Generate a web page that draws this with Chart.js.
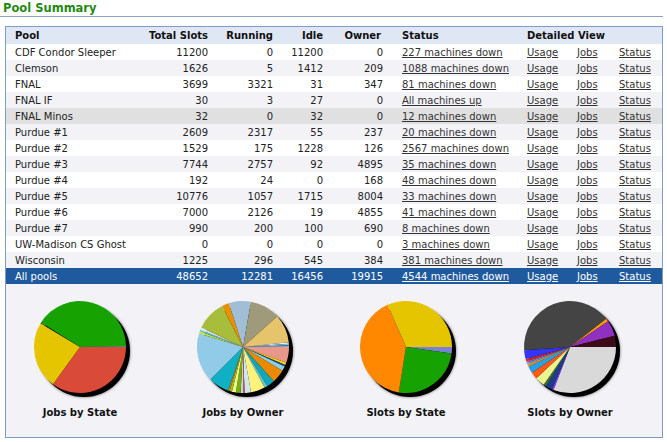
<!DOCTYPE html>
<html>
<head>
<meta charset="utf-8">
<script src="https://cdn.jsdelivr.net/npm/chart.js@4"></script>
<style>
  body { margin:0; background:#fff; font-family:"DejaVu Sans", Verdana, sans-serif; font-size:10px; color:#222; }
  #title { position:absolute; left:3px; top:1px; font-weight:bold; font-size:11.5px; color:#1f8a12; }
  #rule { position:absolute; left:0; top:16px; width:663px; height:1px; background:#8fa3c8; }
  #box { position:absolute; left:5px; top:26px; width:656px; height:410px; border:1px solid #7f9bc8; background:#f2f2f7; }
  table { position:absolute; left:0; top:0; border-collapse:collapse; table-layout:fixed; width:656px; }
  td, th { padding:0; height:16px; white-space:nowrap; font-size:10px; }
  th { height:17px; text-align:left; font-weight:bold; color:#111; background:#dfe7f4; }
  tr.odd td { background:#fff; }
  tr.even td { background:#f2f2f7; }
  tr.hl td { background:#e0e0e0; }
  tr.total td { background:#1f5a9e; color:#fff; }
  tr.total a { color:#fff; }
  a { color:#333; text-decoration:underline; }
  .l1 { padding-left:9px; }
  .r { text-align:right; padding-right:6px; }
  .st { padding-left:13px; }
  .lk { padding-left:7px; }
  .pie { position:absolute; width:120px; height:120px; }
  .cap { position:absolute; width:140px; text-align:center; font-weight:bold; font-size:10px; color:#111; }
</style>
</head>
<body>
<div id="title">Pool Summary</div>
<div id="rule"></div>
<div id="box"></div>
<script>
// table data
const pools = ['CDF Condor Sleeper','Clemson','FNAL','FNAL IF','FNAL Minos','Purdue #1','Purdue #2','Purdue #3','Purdue #4','Purdue #5','Purdue #6','Purdue #7','UW-Madison CS Ghost','Wisconsin'];
const totalSlots = [11200,1626,3699,30,32,2609,1529,7744,192,10776,7000,990,0,1225];
const running = [0,5,3321,3,0,2317,175,2757,24,1057,2126,200,0,296];
const idle = [11200,1412,31,27,32,55,1228,92,0,1715,19,100,0,545];
const owner = [0,209,347,0,0,237,126,4895,168,8004,4855,690,0,384];
const status = ['227 machines down','1088 machines down','81 machines down','All machines up','12 machines down','20 machines down','2567 machines down','35 machines down','48 machines down','33 machines down','41 machines down','8 machines down','3 machines down','381 machines down'];
const allPools = ['All pools',48652,12281,16456,19915,'4544 machines down'];

// pie data (clockwise from 3 o'clock)
const jobsStateVals = [126,85,1,147,1];
const jobsStateColors = ['#d94b38','#e5c400','#111111','#16a200','#7aaabb'];

const jobsOwnerVals = [20,3,2,6,17,10,4,18,8,2,3,6,5,3,2,26,62,3,2,3,38,9,28,38,36,2,2,1,1];
const jobsOwnerColors = ['#e9978a','#ffd800','#1a4a8a','#8ecfe8','#e98a00','#12a8b8','#5cc8d4','#fff27a','#cfe6f0','#e05030','#a8dcec','#7aae10','#eef98a','#98c020','#e08000','#10b0c4','#92cbe8','#c8e040','#40c8e0','#e0e8ee','#a9bd3c','#e89000','#a0bfd6','#a09a7c','#e6c46c','#eaeaea','#80c0e0','#2070c0','#d0e0e8'];

const slotsStateVals = [1100,12281,19915,15356];
const slotsStateColors = ['#7a80d8','#16a200','#ff8800','#e5c400'];

const slotsOwnerVals = [111,2,9,2,1,12,9,9,3,2,2,3,11,146,4,20,14];
const slotsOwnerColors = ['#d9d9d9','#8a3cff','#203a8c','#3a8a2a','#556b2f','#eaf592','#ff5a12','#2c9fe0','#f39020','#3cb0f0','#c050c0','#d42a1a','#3434ff','#444444','#ff9a00','#9030c0','#3c0c18'];

const captions = ['Jobs by State','Jobs by Owner','Slots by State','Slots by Owner'];

/*************************************************************************/
const box = document.getElementById('box');
let html = '<table><colgroup><col style="width:134px"><col style="width:74px"><col style="width:65px"><col style="width:50px"><col style="width:60px"><col style="width:131px"><col style="width:50px"><col style="width:42px"><col style="width:50px"></colgroup>';
html += '<tr><th class="l1">Pool</th><th class="r" style="text-align:right">Total Slots</th><th class="r" style="text-align:right">Running</th><th class="r" style="text-align:right">Idle</th><th class="r" style="text-align:right;padding-right:8px">Owner</th><th class="st">Status</th><th class="lk" colspan="3">Detailed View</th></tr>';
const links = '<td class="lk"><a>Usage</a></td><td class="lk"><a>Jobs</a></td><td class="lk"><a>Status</a></td>';
for (let i = 0; i < pools.length; i++) {
  let cls = (i % 2 == 0) ? 'odd' : 'even';
  if (pools[i] == 'FNAL Minos') cls = 'hl';
  html += '<tr class="' + cls + '"><td class="l1">' + pools[i] + '</td><td class="r">' + totalSlots[i] + '</td><td class="r">' + running[i] +
    '</td><td class="r">' + idle[i] + '</td><td class="r">' + owner[i] + '</td><td class="st"><a>' + status[i] + '</a></td>' + links + '</tr>';
}
html += '<tr class="total"><td class="l1">' + allPools[0] + '</td><td class="r">' + allPools[1] + '</td><td class="r">' + allPools[2] +
  '</td><td class="r">' + allPools[3] + '</td><td class="r">' + allPools[4] + '</td><td class="st"><a>' + allPools[5] + '</a></td>' + links + '</tr>';
html += '</table>';
box.innerHTML = html;

// black drop shadow behind each pie
const pieShadow = {
  id: 'pieShadow',
  beforeDatasetsDraw(chart) {
    const arc = chart.getDatasetMeta(0).data[0];
    const ctx = chart.ctx;
    ctx.save();
    ctx.fillStyle = '#000';
    ctx.shadowColor = 'rgba(0,0,0,0.6)';
    ctx.shadowBlur = 3;
    ctx.beginPath();
    ctx.arc(arc.x + 4, arc.y + 4, arc.outerRadius, 0, Math.PI * 2);
    ctx.fill();
    ctx.restore();
  }
};

const pieSets = [
  [jobsStateVals, jobsStateColors],
  [jobsOwnerVals, jobsOwnerColors],
  [slotsStateVals, slotsStateColors],
  [slotsOwnerVals, slotsOwnerColors]
];
const centersX = [80, 243, 406, 570];

pieSets.forEach((p, i) => {
  const holder = document.createElement('div');
  holder.className = 'pie';
  holder.style.left = (centersX[i] - 60) + 'px';
  holder.style.top = (347 - 60) + 'px';
  const cv = document.createElement('canvas');
  cv.width = 120; cv.height = 120;
  holder.appendChild(cv);
  document.body.appendChild(holder);

  const cap = document.createElement('div');
  cap.className = 'cap';
  cap.style.left = (centersX[i] - 70) + 'px';
  cap.style.top = '407px';
  cap.textContent = captions[i];
  document.body.appendChild(cap);

  new Chart(cv.getContext('2d'), {
    type: 'pie',
    data: {
      labels: p[0].map((v, k) => 'slice ' + (k + 1)),
      datasets: [{ data: p[0], backgroundColor: p[1], borderWidth: 0 }]
    },
    options: {
      responsive: false,
      animation: false,
      events: [],
      rotation: 90,
      radius: 46,
      layout: { padding: 0 },
      plugins: { legend: { display: false }, tooltip: { enabled: false } }
    },
    plugins: [pieShadow]
  });
});
</script>
</body>
</html>
